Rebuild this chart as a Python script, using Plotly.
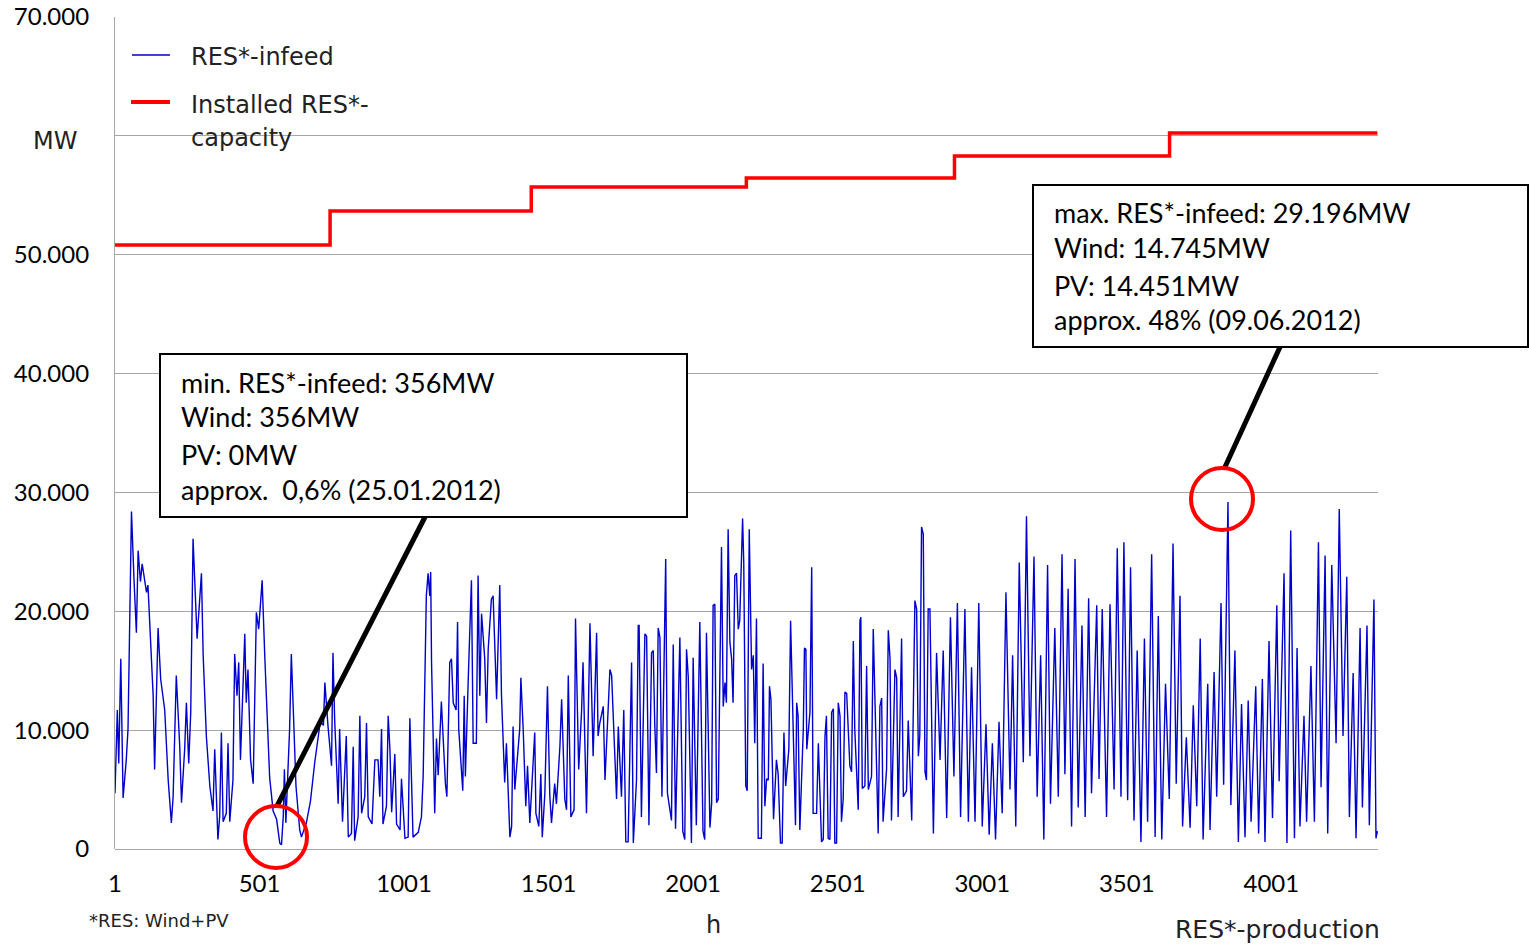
import plotly.graph_objects as go

# ---------------- data ----------------
hours = [
    1, 9, 14, 21, 29, 40, 46, 58, 67, 75, 81, 89, 95, 104, 110, 115, 123, 133, 138, 144,
    150, 159, 173, 185, 196, 202, 213, 225, 231, 242, 248, 256, 263, 271, 279, 285, 300, 306, 317, 329,
    340, 346, 357, 363, 369, 375, 386, 392, 398, 409, 415, 423, 429, 435, 450, 455, 461, 470, 479, 490,
    498, 510, 519, 527, 536, 548,
    560, 571, 577, 583, 587, 592, 605, 611, 617, 627, 640, 646, 663, 677, 692, 711, 722, 727, 738, 750,
    755, 761, 773, 778, 788, 801, 808, 819, 825, 830, 842, 848, 854, 865, 871, 877, 890, 900, 911, 917,
    923, 928, 940, 946, 952, 958, 969, 975, 987, 992, 1004, 1015, 1021, 1027, 1032, 1050, 1061, 1067, 1073, 1078,
    1084, 1090, 1093, 1096, 1101,
    1107, 1113, 1119, 1130, 1144, 1149, 1159, 1165, 1171, 1181, 1186, 1190, 1204, 1209, 1213, 1223, 1234, 1240, 1251, 1257,
    1263, 1269, 1280, 1286, 1292, 1303, 1309, 1321, 1332, 1338, 1349, 1355, 1367, 1373, 1378, 1384, 1401, 1405, 1413, 1422,
    1428, 1436, 1453, 1457, 1467, 1474, 1479, 1488, 1497, 1505, 1511, 1522, 1528, 1540, 1546, 1557, 1563, 1569, 1578, 1589,
    1594, 1605, 1615, 1620, 1632, 1644, 1655, 1667, 1672,
    1678, 1690, 1696, 1713, 1719, 1736, 1742, 1753, 1761, 1768, 1776, 1788, 1794, 1805, 1811, 1814, 1822, 1834, 1840, 1848,
    1857, 1863, 1868, 1874, 1880, 1886, 1893, 1906, 1912, 1926, 1932, 1940, 1955, 1965, 1972, 1978, 1984, 1995, 2001, 2012,
    2024, 2035, 2041, 2047, 2053, 2059, 2065, 2070, 2076, 2082, 2088, 2093, 2099, 2105, 2111, 2116, 2122, 2128, 2134, 2139,
    2145, 2151, 2157, 2162, 2168, 2172, 2176, 2183, 2188, 2195, 2203, 2209, 2214, 2220, 2226, 2237, 2243, 2249,
    2255, 2261, 2265, 2270, 2279, 2289, 2295, 2303, 2309, 2315, 2321, 2332, 2338, 2344, 2355, 2359, 2364, 2370, 2382, 2386,
    2391, 2394, 2405, 2411, 2416, 2428, 2434, 2445, 2451, 2457, 2462, 2468, 2474, 2480, 2486, 2491, 2497, 2503, 2509, 2514,
    2520, 2526, 2532, 2543, 2549, 2555, 2560, 2572, 2578, 2581, 2586, 2595, 2601, 2607, 2618, 2624, 2630, 2641, 2647, 2653,
    2658, 2670, 2676, 2682, 2687, 2699, 2705, 2710, 2722, 2728, 2739, 2745, 2757, 2768, 2774, 2780, 2785, 2791, 2797, 2803,
    2808, 2814,
    2820, 2832, 2843, 2855, 2866, 2878, 2891, 2903, 2915, 2926, 2941, 2953, 2964, 2976, 2989, 3001, 3014, 3025, 3036, 3047,
    3059, 3070, 3083, 3097, 3106, 3117, 3129, 3143, 3154, 3166, 3180, 3191, 3203, 3214, 3227, 3237, 3252, 3264, 3277, 3287,
    3298, 3310, 3322, 3333, 3346, 3357, 3369, 3379, 3397, 3405,
    3416, 3431, 3443, 3457, 3468, 3481, 3491, 3504, 3514, 3526, 3537, 3550, 3562, 3573, 3587, 3599, 3610, 3622, 3635, 3648,
    3661, 3672, 3685, 3694, 3707, 3720, 3731, 3743, 3755, 3765, 3781, 3789, 3803, 3812, 3827, 3836, 3851, 3861, 3875, 3887,
    3898, 3910, 3921, 3931, 3947, 3957, 3970, 3979,
    3993, 4005, 4020, 4028, 4045, 4055, 4068, 4081, 4090, 4100, 4114, 4123, 4138, 4150, 4164, 4173, 4187, 4196, 4210, 4225,
    4236, 4249, 4262, 4271, 4284, 4294, 4308, 4316, 4332, 4340, 4356, 4363, 4368,
]

res_infeed_mw = [
    4700, 11700, 7200, 16000, 4300, 7500, 10100, 28400, 22500, 18200, 25100, 22500, 24000, 22700, 21600, 22200, 18500, 12900, 6700, 11700,
    18600, 14300, 11700, 5800, 2200, 4400, 14600, 8600, 3900, 8400, 12300, 7200, 11500, 26100, 21300, 17700, 23200, 16300, 9500, 5300,
    3200, 8400, 800, 2700, 9800, 2300, 3000, 8900, 2300, 5800, 16400, 12900, 15700, 7500, 18100, 12300, 15100, 7500, 5500, 19900,
    18500, 22600, 16300, 11500, 6000, 3200,
    2500, 500, 356, 2700, 6700, 2200, 10100, 16400, 11700, 5300, 1600, 1000, 2200, 4000, 7300, 10700, 10400, 14000, 10300, 7000,
    16500, 10800, 3800, 10100, 2300, 9500, 1000, 1300, 8600, 700, 2700, 11200, 3000, 4400, 10600, 2700, 2100, 7500, 7500, 4400,
    10100, 2100, 3600, 11200, 8400, 3100, 8000, 2100, 1600, 5900, 900, 1000, 11000, 5900, 1000, 1400, 2700, 6100, 13000, 21300,
    23200, 21300, 23300, 15700, 10100,
    3000, 9300, 6200, 12400, 5500, 4400, 15700, 16000, 12300, 11700, 19100, 10100, 4900, 12900, 6100, 14300, 22600, 8900, 8900, 23000,
    12900, 19800, 16000, 10600, 16800, 21000, 21300, 12600, 22200, 12900, 5600, 8900, 1000, 1900, 10300, 5000, 10100, 14400, 10100, 3600,
    7000, 2200, 9800, 3000, 1900, 6300, 1000, 4700, 13700, 4500, 2200, 5500, 3800, 8600, 12600, 4200, 3300, 14600, 2700, 3300,
    19400, 6700, 11600, 15700, 3000, 19000, 7800, 18200, 9500,
    10600, 12000, 5800, 15100, 14600, 4200, 10300, 4400, 11700, 600, 600, 15700, 500, 5800, 18800, 18800, 2700, 18100, 17900, 2000,
    16500, 16700, 10600, 6400, 18600, 17800, 4400, 24400, 4700, 2400, 17200, 1700, 17800, 1500, 800, 16800, 14500, 500, 16100, 2000,
    19100, 1500, 800, 18200, 10100, 1800, 3900, 20500, 20600, 3900, 4200, 16800, 25400, 12000, 14000, 12300, 26900, 17400, 16000, 12300,
    23000, 23200, 18500, 19200, 24100, 27800, 24100, 5300, 4900, 26900, 15100, 16300, 8900, 19400, 900, 900, 15600, 3600,
    5900, 5800, 13700, 12600, 2500, 7500, 6300, 500, 500, 9800, 5300, 8400, 19200, 13200, 2000, 12300, 11200, 1600, 10100, 16900,
    16800, 8400, 11500, 23700, 3000, 3000, 8900, 600, 800, 9500, 11200, 900, 800, 11500, 11800, 500, 500, 12300, 11200, 2300,
    4200, 13200, 13100, 7000, 6500, 17500, 10100, 3300, 19200, 19500, 5100, 5300, 15400, 5000, 6100, 18500, 11500, 1300, 12000, 12700,
    2300, 6700, 18400, 16000, 2400, 15100, 14400, 2700, 17700, 4400, 4900, 10800, 2400, 20900, 20200, 7800, 9500, 27100, 26500, 6500,
    5800, 20200,
    20200, 1300, 16500, 7500, 16700, 2600, 19500, 6100, 20700, 2700, 20200, 2300, 15300, 2300, 20700, 1900, 10500, 1200, 8900, 800,
    10700, 3000, 21600, 5000, 16300, 1900, 24100, 7300, 28000, 7800, 24600, 4400, 16300, 800, 23900, 3800, 18600, 4400, 24800, 6300,
    21900, 1900, 24400, 3500, 18800, 2700, 21100, 4700, 20500, 5900,
    20200, 2700, 20600, 5000, 25300, 4400, 25800, 4100, 23700, 2400, 16700, 600, 17700, 2300, 24800, 1000, 19600, 800, 13900, 4200,
    25700, 5500, 21300, 1900, 9400, 1800, 12100, 3600, 17700, 800, 13900, 1600, 14900, 4400, 20700, 5400, 29196, 3700, 16700, 600,
    12200, 1000, 12500, 2300, 13700, 1300, 14300, 600,
    17500, 2600, 20500, 5700, 23200, 500, 26800, 900, 16900, 1900, 11200, 2300, 15400, 2300, 25800, 5200, 24700, 1300, 23900, 8900,
    28600, 9500, 22900, 2700, 14800, 900, 18600, 3500, 18800, 2000, 21000, 900, 1500,
]

capacity_hours = [1, 745, 1441, 2185, 2905, 3649, 4368]
installed_capacity_mw = [50820, 53680, 55700, 56450, 58300, 60240, 60240]

y_tick_values = [0, 10000, 20000, 30000, 40000, 50000, 60000, 70000]
y_tick_labels = ["0", "10.000", "20.000", "30.000", "40.000", "50.000", "", "70.000"]
x_tick_values = [1, 501, 1001, 1501, 2001, 2501, 3001, 3501, 4001]
x_tick_labels = [str(v) for v in x_tick_values]

legend_labels = ["RES*-infeed", "Installed RES*-", "capacity"]
min_box_lines = ["min. RES*-infeed: 356MW", "Wind: 356MW", "PV: 0MW", "approx.  0,6% (25.01.2012)"]
max_box_lines = ["max. RES*-infeed: 29.196MW", "Wind: 14.745MW", "PV: 14.451MW", "approx. 48% (09.06.2012)"]

# ---------------- styling ----------------
BLUE = "#0000CC"
RED = "#FF0000"
GRID = "#A6A6A6"
NUM_FONT = "Lato"
TXT_FONT = "DejaVu Sans"

W, H = 1529, 944
# plot area in screen pixels: x 115..1378, y 17..849
SX0, SX1, SY0, SY1 = 115, 1378, 17, 849
L, T = SX0, SY0
R, B = W - SX1, H - SY1
PW, PH = SX1 - SX0, SY1 - SY0


def px(x):
    return (x - SX0) / PW


def py(y):
    return (SY1 - y) / PH


fig = go.Figure()
fig.add_trace(go.Scatter(x=hours, y=res_infeed_mw, mode="lines",
                         line=dict(color=BLUE, width=1.4), name=legend_labels[0],
                         showlegend=False))
fig.add_trace(go.Scatter(x=capacity_hours, y=installed_capacity_mw, mode="lines",
                         line=dict(color=RED, width=3.5, shape="hv"),
                         name="Installed RES*-capacity", showlegend=False))

shapes = []
annotations = []

# legend (drawn manually)
shapes.append(dict(type="line", xref="paper", yref="paper", x0=px(132), x1=px(170),
                   y0=py(55), y1=py(55), line=dict(color=BLUE, width=1.5)))
shapes.append(dict(type="line", xref="paper", yref="paper", x0=px(131), x1=px(170),
                   y0=py(102), y1=py(102), line=dict(color=RED, width=4)))
for text, yc in zip(legend_labels, [57, 105, 138]):
    annotations.append(dict(text=text, xref="paper", yref="paper", x=px(189), y=py(yc),
                            xanchor="left", yanchor="middle", showarrow=False,
                            font=dict(family=TXT_FONT, size=24, color="#222222")))

# MW unit label at the 60.000 position
annotations.append(dict(text="MW", xref="paper", yref="paper", x=px(55), y=py(141),
                        xanchor="center", yanchor="middle", showarrow=False,
                        font=dict(family=TXT_FONT, size=24, color="#222222")))

# boxes
shapes.append(dict(type="rect", xref="paper", yref="paper", x0=px(160), x1=px(687),
                   y0=py(517), y1=py(354), line=dict(color="black", width=2),
                   fillcolor="white", layer="above"))
shapes.append(dict(type="rect", xref="paper", yref="paper", x0=px(1033), x1=px(1528),
                   y0=py(347), y1=py(185), line=dict(color="black", width=2),
                   fillcolor="white", layer="above"))
for text, yc in zip(min_box_lines, [382, 417, 454, 489]):
    annotations.append(dict(text=text, xref="paper", yref="paper", x=px(179), y=py(yc),
                            xanchor="left", yanchor="middle", showarrow=False,
                            font=dict(family=NUM_FONT, size=27, color="black")))
for text, yc in zip(max_box_lines, [212, 247, 285, 319]):
    annotations.append(dict(text=text, xref="paper", yref="paper", x=px(1052), y=py(yc),
                            xanchor="left", yanchor="middle", showarrow=False,
                            font=dict(family=NUM_FONT, size=27, color="black")))

# connectors and circles
shapes.append(dict(type="line", xref="paper", yref="paper", x0=px(425), y0=py(517),
                   x1=px(277), y1=py(806), line=dict(color="black", width=5), layer="above"))
shapes.append(dict(type="circle", xref="paper", yref="paper", x0=px(245), x1=px(307),
                   y0=py(868), y1=py(806), line=dict(color=RED, width=4), layer="above"))
shapes.append(dict(type="line", xref="paper", yref="paper", x0=px(1280), y0=py(347),
                   x1=px(1225), y1=py(467), line=dict(color="black", width=5), layer="above"))
shapes.append(dict(type="circle", xref="paper", yref="paper", x0=px(1191), x1=px(1253),
                   y0=py(530), y1=py(468), line=dict(color=RED, width=4), layer="above"))

# bottom texts
annotations.append(dict(text="*RES: Wind+PV", xref="paper", yref="paper", x=px(87), y=py(921),
                        xanchor="left", yanchor="middle", showarrow=False,
                        font=dict(family=TXT_FONT, size=18, color="#222222")))
annotations.append(dict(text="h", xref="paper", yref="paper", x=px(713), y=py(925),
                        xanchor="center", yanchor="middle", showarrow=False,
                        font=dict(family=TXT_FONT, size=24, color="#222222")))
annotations.append(dict(text="RES*-production", xref="paper", yref="paper", x=px(1173), y=py(929),
                        xanchor="left", yanchor="middle", showarrow=False,
                        font=dict(family=TXT_FONT, size=25, color="#222222")))

fig.update_layout(
    width=W, height=H,
    margin=dict(l=L, r=R, t=T, b=B, pad=0, autoexpand=False),
    paper_bgcolor="white", plot_bgcolor="white",
    shapes=shapes, annotations=annotations,
    showlegend=False,
    xaxis=dict(range=[1, 4370], tickmode="array", tickvals=x_tick_values, ticktext=x_tick_labels,
               showgrid=False, zeroline=False, showline=False, ticks="", automargin=False,
               ticklabelstandoff=18, ticklabeloverflow="allow",
               tickfont=dict(family=NUM_FONT, size=24, color="black")),
    yaxis=dict(range=[0, 70000], tickmode="array", tickvals=y_tick_values, ticktext=y_tick_labels,
               showgrid=True, gridcolor=GRID, gridwidth=1.2, zeroline=True, zerolinecolor=GRID,
               zerolinewidth=1.2, showline=True, linecolor=GRID, linewidth=1.2, ticks="",
               automargin=False, ticklabelstandoff=20, ticklabeloverflow="allow",
               tickfont=dict(family=NUM_FONT, size=24, color="black")),
)

fig.write_html(
    "out.html",
    config={"displayModeBar": False},
    post_script="document.body.style.margin='0';document.body.style.overflow='hidden';",
)
